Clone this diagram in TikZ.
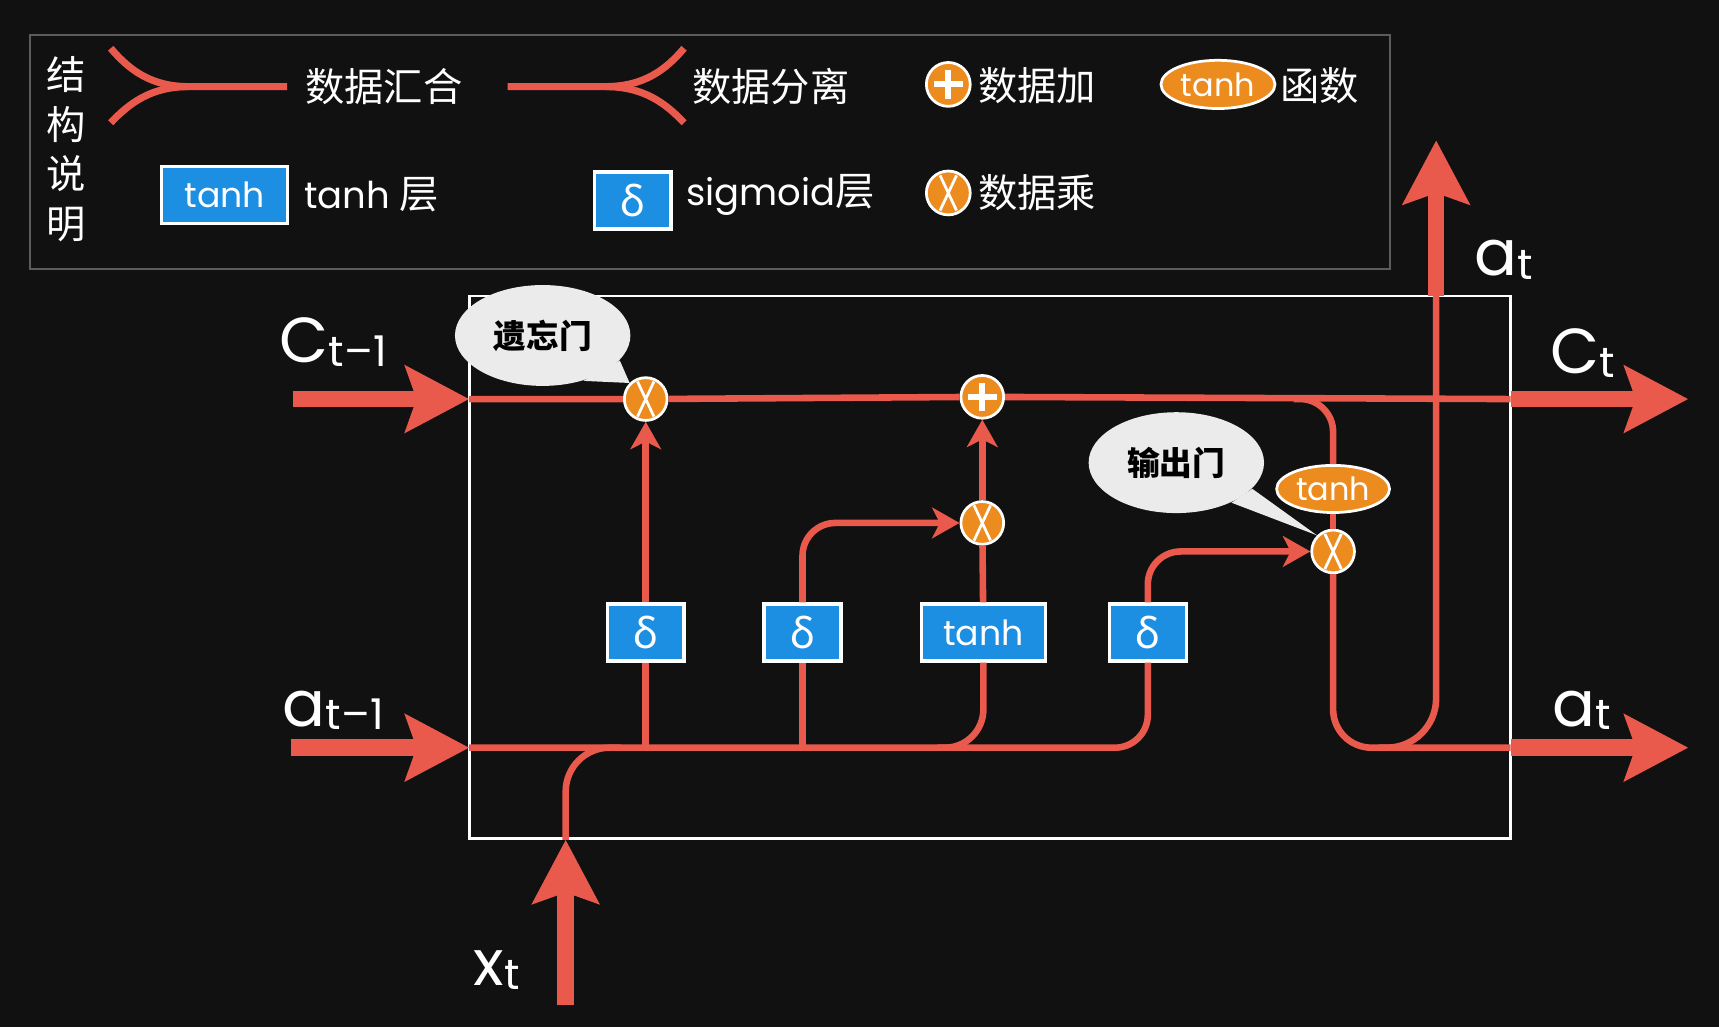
\documentclass[tikz,border=0pt]{standalone}
\usepackage{fontspec}
\setmainfont{Poppins}
\newfontfamily\cjk{Noto Sans CJK SC}
\newfontfamily\grk{Noto Sans}
\usetikzlibrary{arrows.meta,shapes.geometric}
\definecolor{Coral}{HTML}{E9594C}
\definecolor{Amber}{HTML}{EC8B1E}
\definecolor{Azure}{HTML}{1C8FE3}
\definecolor{Ink}{HTML}{111111}
\definecolor{Mist}{HTML}{EBEBEB}
\definecolor{Slate}{HTML}{5C5C5C}
\newcommand{\lsub}[2]{#1{\fontsize{11}{11}\selectfont\raisebox{-0.08em}{#2}}}

\tikzset{
  wire/.style={draw=Coral,line width=0.6mm},
  wirearrow/.style={wire,-{Stealth[length=2.5mm,width=2.8mm,inset=0.7mm]}},
  bigarrow/.style={draw=Coral,line width=1.5mm,-{Stealth[length=5.8mm,width=6mm,inset=1mm]}},
  sgbox/.style={draw=white,line width=0.3mm,fill=Azure,text=white,minimum width=7mm,minimum height=5.2mm,inner sep=0pt,font=\grk\fontsize{11}{11}\selectfont},
  thbox/.style={sgbox,minimum width=11.3mm,font=\fontsize{9}{9}\selectfont},
  opnode/.style={circle,draw=white,line width=0.25mm,fill=Amber,minimum size=3.9mm,inner sep=0pt},
  mulop/.style={opnode,path picture={\draw[white,line width=0.25mm]
      (path picture bounding box.center) ++(-0.75mm,1.6mm) -- ++(1.5mm,-3.2mm)
      (path picture bounding box.center) ++(-0.75mm,-1.6mm) -- ++(1.5mm,3.2mm);}},
  addop/.style={opnode,path picture={\draw[white,line width=0.55mm]
      (path picture bounding box.center) ++(-1.3mm,0) -- ++(2.6mm,0)
      (path picture bounding box.center) ++(0,-1.3mm) -- ++(0,2.6mm);}},
  thoval/.style={ellipse,draw=white,line width=0.25mm,fill=Amber,text=white,minimum width=10.3mm,minimum height=4.3mm,inner sep=0pt,font=\fontsize{8.3}{8.3}\selectfont},
  bubble/.style={ellipse,fill=Mist,minimum width=16mm,minimum height=9.2mm,inner sep=0pt,text=black,font=\cjk\bfseries\fontsize{8.5}{8.5}\selectfont},
  lgtext/.style={text=white,font=\cjk\fontsize{10.2}{12.9}\selectfont},
  lglatin/.style={text=white,font=\fontsize{9.6}{12}\selectfont},
  lbl/.style={text=white,font=\fontsize{16.5}{16.5}\selectfont},
}

\begin{document}
\begin{tikzpicture}[x=0.1mm,y=-0.1mm]
    \useasboundingbox (0,0) rectangle (1568,937);
    \fill[Ink] (0,0) rectangle (1568,937);

    % legend
    \draw[Slate,line width=0.2mm] (27,32) rectangle (1268,245);
    \node[lgtext,align=center] (lgtitle) at (60,136) {结\\构\\说\\明};

    \coordinate (mgA) at (101,44);
    \coordinate (mgB) at (101,112);
    \coordinate (mgJ) at (172,79);
    \coordinate (mgE) at (262,79);
    \draw[wire,line width=0.65mm] (mgA) .. controls (118,64) and (138,79) .. (mgJ) -- (mgE);
    \draw[wire,line width=0.65mm] (mgB) .. controls (118,94) and (138,79) .. (mgJ);
    \node[lgtext] (lgmerge) at (350,79) {数据汇合};

    \coordinate (spS) at (463,79);
    \coordinate (spJ) at (552,79);
    \coordinate (spA) at (624,44);
    \coordinate (spB) at (624,112);
    \draw[wire,line width=0.65mm] (spS) -- (spJ) .. controls (587,79) and (607,64) .. (spA);
    \draw[wire,line width=0.65mm] (spJ) .. controls (587,79) and (607,94) .. (spB);
    \node[lgtext] (lgsplit) at (703,79) {数据分离};

    \node[addop,minimum size=4mm] (lgadd) at (865,77) {};
    \node[lgtext] (lgaddt) at (946,78) {数据加};
    \node[thoval,minimum width=10.4mm,minimum height=4.4mm] (lgtho) at (1111,77) {tanh};
    \node[lgtext] (lgthot) at (1204,78) {函数};

    \node[thbox,minimum width=11.5mm] (lgth) at (205,178) {tanh};
    \node[lglatin] (lgtht) at (339,178) {tanh {\cjk\fontsize{10.2}{12}\selectfont 层}};
    \node[sgbox] (lgsg) at (577,183) {δ};
    \node[lglatin] (lgsgt) at (712,178) {sigmoid{\cjk\fontsize{10.2}{12}\selectfont 层}};
    \node[mulop,minimum size=4mm] (lgmul) at (865,176) {};
    \node[lgtext] (lgmult) at (946,176) {数据乘};

    % cell
    \node[draw=white,line width=0.25mm,minimum width=95mm,minimum height=49.5mm,inner sep=0pt] (cell) at (903,517.5) {};

    \coordinate (cl) at (428,364);
    \coordinate (cr) at (1378,364);
    \coordinate (hl) at (428,682);
    \coordinate (hr) at (1378,682);
    \coordinate (ci) at (267,364);
    \coordinate (co) at (1540,364);
    \coordinate (hi) at (265,682);
    \coordinate (ho) at (1540,682);
    \coordinate (xi) at (516,917);
    \coordinate (xb) at (516,766);
    \coordinate (xj) at (566,682);
    \coordinate (thj) at (855,682);
    \coordinate (cb) at (1180,364);
    \coordinate (hb) at (1258,682);
    \coordinate (at) at (1310,270);
    \coordinate (ao) at (1310,128);

    \node[mulop] (fgx) at (589,364) {};
    \node[addop] (upd) at (896,362) {};
    \node[mulop] (inx) at (896,477) {};
    \node[mulop] (outx) at (1216,503) {};
    \node[sgbox] (sg1) at (589,577) {δ};
    \node[sgbox] (sg2) at (732,577) {δ};
    \node[thbox] (th) at (897,577) {tanh};
    \node[sgbox] (sg3) at (1047,577) {δ};
    \node[thoval] (tho) at (1216,446) {tanh};

    \draw[wire] (cl) -- (fgx) -- (upd) -- (cr);
    \draw[wire,rounded corners=3mm] (hl) -| (sg3);
    \draw[wire] (sg1) -- (sg1 |- hl);
    \draw[wire] (sg2) -- (sg2 |- hl);
    \draw[wire,rounded corners=3.5mm] (th) |- (thj);
    \draw[wire,rounded corners=4mm] (xb) |- (xj);
    \draw[wirearrow] (sg1) -- (fgx);
    \draw[wirearrow,rounded corners=3mm] (sg2) |- (inx);
    \draw[wire] (th) -- (inx);
    \draw[wirearrow] (inx) -- (upd);
    \draw[wirearrow,rounded corners=3mm] (sg3) |- (outx);
    \draw[wire,rounded corners=3mm] (cb) -| (tho);
    \draw[wire] (tho) -- (outx);
    \draw[wire,rounded corners=3.5mm] (outx) |- (hr);
    \draw[wire,rounded corners=4.5mm] (hb) -| (at);

    \draw[bigarrow] (ci) -- (cl);
    \draw[bigarrow] (hi) -- (hl);
    \draw[bigarrow] (xi) -- (xb);
    \draw[bigarrow] (cr) -- (co);
    \draw[bigarrow] (hr) -- (ho);
    \draw[bigarrow] (at) -- (ao);

    % gates
    \node[bubble] (fgb) at (495,306) {遗忘门};
    \fill[Mist] (fgb.-48) -- (fgx.north west) -- (fgb.-18) -- cycle;
    \node[bubble] (outb) at (1073,422) {输出门};
    \fill[Mist] (outb.-36) -- (outx.north west) -- (outb.-19) -- cycle;

    \node[lbl] (lcin) at (304,312) {\lsub{C}{t–1}};
    \node[lbl] (lhin) at (304,648) {\lsub{a}{t–1}};
    \node[lbl] (lxin) at (453,885) {\lsub{x}{t}};
    \node[lbl] (lcout) at (1444,322) {\lsub{C}{t}};
    \node[lbl] (lhout) at (1443,648) {\lsub{a}{t}};
    \node[lbl] (lhup) at (1372,237) {\lsub{a}{t}};
\end{tikzpicture}
\end{document}
